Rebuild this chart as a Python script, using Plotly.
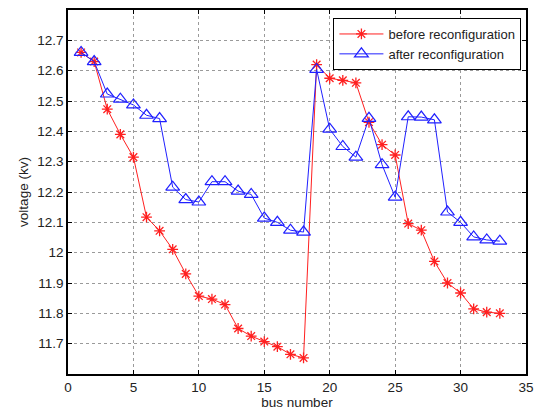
import plotly.graph_objects as go

bus = list(range(1, 34))
before = [12.66, 12.63, 12.473, 12.39, 12.315, 12.117, 12.072, 12.011, 11.93, 11.857,
          11.847, 11.829, 11.75, 11.725, 11.707, 11.69, 11.665, 11.653,
          12.62, 12.575, 12.568, 12.56, 12.43, 12.356, 12.322,
          12.096, 12.074, 11.971, 11.90, 11.867, 11.815, 11.804, 11.80]
after = [12.66, 12.63, 12.523, 12.506, 12.487, 12.453, 12.442, 12.216, 12.175, 12.167,
         12.234, 12.234, 12.203, 12.192, 12.114, 12.10, 12.074, 12.068,
         12.604, 12.407, 12.35, 12.315, 12.443, 12.29, 12.183,
         12.448, 12.447, 12.438, 12.134, 12.10, 12.052, 12.042, 12.038]

xticks = [0, 5, 10, 15, 20, 25, 30, 35]
yticks = [11.7, 11.8, 11.9, 12.0, 12.1, 12.2, 12.3, 12.4, 12.5, 12.6, 12.7]
yticklabels = ["11.7", "11.8", "11.9", "12", "12.1", "12.2", "12.3", "12.4", "12.5", "12.6", "12.7"]

FONT = "Liberation Sans, Arial"

fig = go.Figure()
fig.add_trace(go.Scatter(
    x=bus, y=before, mode="lines+markers", name="before reconfiguration",
    line=dict(color="#ff2020", width=1),
    marker=dict(symbol="asterisk-open", size=9, color="#ff2020", line=dict(width=1.3, color="#ff2020")),
))
fig.add_trace(go.Scatter(
    x=bus, y=after, mode="lines+markers", name="after reconfiguration",
    line=dict(color="#2020ff", width=1),
    marker=dict(symbol="triangle-up-open", size=12, color="#2020ff", line=dict(width=1.2, color="#2020ff")),
))

axis_common = dict(
    showline=True, linecolor="black", linewidth=1.5, mirror="ticks",
    ticks="inside", ticklen=4, tickcolor="black",
    showgrid=True, gridcolor="#9a9a9a", griddash="dot", gridwidth=1,
    zeroline=False, tickfont=dict(family=FONT, size=13.5, color="#222"),
)

fig.update_xaxes(range=[0, 35], tickvals=xticks, **axis_common,
                 title=dict(text="bus number", font=dict(family=FONT, size=13.5, color="#222"), standoff=4))
fig.update_yaxes(range=[11.6, 12.8], tickvals=yticks, ticktext=yticklabels, **axis_common,
                 title=dict(text="voltage (kv)", font=dict(family=FONT, size=13.5, color="#222"), standoff=6))

fig.update_layout(
    width=542, height=416,
    margin=dict(l=68, r=11, t=8, b=41),
    paper_bgcolor="white", plot_bgcolor="white",
    font=dict(family=FONT, size=13.5, color="#222"),
    legend=dict(x=0.99, xanchor="right", y=0.978, yanchor="top",
                bgcolor="white", bordercolor="black", borderwidth=1,
                font=dict(family=FONT, size=13, color="#222"),
                tracegroupgap=0, itemwidth=44),
    showlegend=True,
)

fig.write_html("out.html")
